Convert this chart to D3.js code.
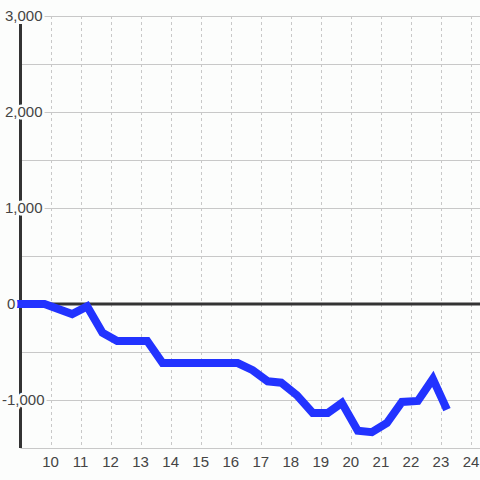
<!DOCTYPE html>
<html>
<head>
<meta charset="utf-8">
<script src="https://cdn.jsdelivr.net/npm/d3@7"></script>
<style>
  html, body { margin: 0; padding: 0; background: #fcfdfc; }
  svg { display: block; font-family: "Liberation Sans", Arial, sans-serif; }
</style>
</head>
<body>
<svg id="chart" width="480" height="480"></svg>
<script>
// data: hour of day, value
var hours = [8.87, 9.8, 10.72, 11.22, 11.73, 12.22, 12.72, 13.22, 13.73, 14.23, 14.73, 15.23, 15.73, 16.23,
             16.73, 17.23, 17.68, 18.2, 18.73, 19.23, 19.7, 20.23, 20.7, 21.2, 21.7, 22.23, 22.73, 23.2];
var values = [0, 0, -105, -25, -300, -385, -385, -385, -615, -615, -615, -615, -615, -615,
              -690, -805, -820, -950, -1135, -1135, -1030, -1320, -1335, -1240, -1020, -1010, -780, -1100];
var xTicks = [10, 11, 12, 13, 14, 15, 16, 17, 18, 19, 20, 21, 22, 23, 24];
var yGrid = [-1500, -1000, -500, 0, 500, 1000, 1500, 2000, 2500, 3000];
var yLabels = [-1000, 0, 1000, 2000, 3000];

var svg = d3.select("#chart");
var bg = "#fcfdfc";

var x = d3.scaleLinear().domain([9, 24.3]).range([20.5, 480]);
var y = d3.scaleLinear().domain([-1500, 3000]).range([448, 16]);

// horizontal grid
svg.append("g").selectAll("line").data(yGrid).enter().append("line")
    .attr("x1", x(9)).attr("x2", 480)
    .attr("y1", function(d) { return y(d) + 0.5; })
    .attr("y2", function(d) { return y(d) + 0.5; })
    .attr("stroke", "#c8c8c8").attr("stroke-width", 1);

// vertical dashed grid
svg.append("g").selectAll("line").data(xTicks).enter().append("line")
    .attr("x1", function(d) { return Math.round(x(d)) + 0.5; })
    .attr("x2", function(d) { return Math.round(x(d)) + 0.5; })
    .attr("y1", y(3000)).attr("y2", y(-1500))
    .attr("stroke", "#c8c8c8").attr("stroke-width", 1)
    .attr("stroke-dasharray", "3,3");

// zero line
svg.append("line")
    .attr("x1", x(9)).attr("x2", 480)
    .attr("y1", y(0)).attr("y2", y(0))
    .attr("stroke", "#333").attr("stroke-width", 3);

// left axis line
svg.append("line")
    .attr("x1", x(9)).attr("x2", x(9))
    .attr("y1", 24).attr("y2", y(-1500))
    .attr("stroke", "#333").attr("stroke-width", 3);

// series line
var line = d3.line()
    .x(function(d, i) { return x(hours[i]); })
    .y(function(d) { return y(d); });

svg.append("path")
    .datum(values)
    .attr("d", line)
    .attr("fill", "none")
    .attr("stroke", "#2233ff")
    .attr("stroke-width", 8)
    .attr("stroke-linejoin", "miter")
    .attr("stroke-linecap", "butt");

// y labels (with background knockout)
svg.append("g").selectAll("text").data(yLabels).enter().append("text")
    .attr("x", function(d) { return d < 0 ? 2 : (d == 0 ? 7 : 5); })
    .attr("y", function(d) { return y(d); })
    .attr("dy", "0.36em")
    .attr("font-size", 15)
    .attr("fill", "#444")
    .attr("stroke", bg).attr("stroke-width", 5)
    .attr("paint-order", "stroke")
    .text(function(d) { return d3.format(",")(d).replace("−", "-"); });

// x labels
svg.append("g").selectAll("text").data(xTicks).enter().append("text")
    .attr("x", function(d) { return x(d); })
    .attr("y", 467)
    .attr("text-anchor", "middle")
    .attr("font-size", 15)
    .attr("fill", "#444")
    .text(function(d) { return d; });
</script>
</body>
</html>
